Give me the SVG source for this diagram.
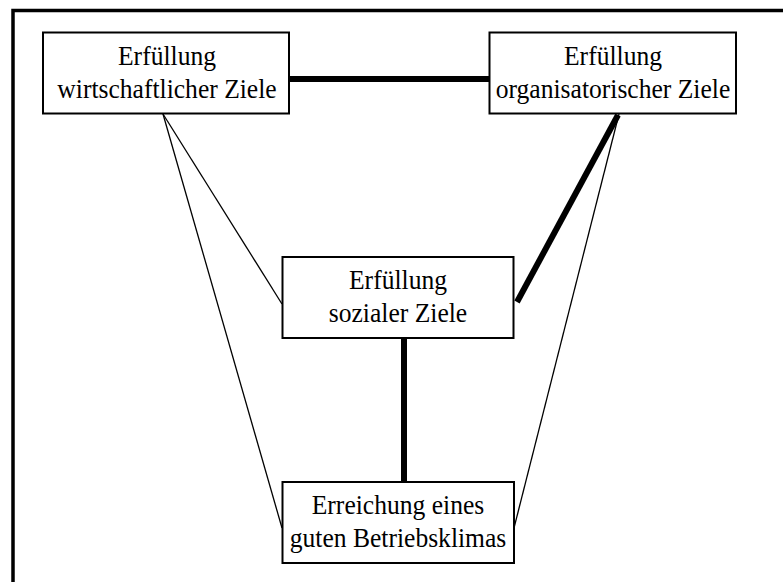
<svg xmlns="http://www.w3.org/2000/svg" width="783" height="582" viewBox="0 0 783 582">
<style>
.box{fill:#fff;stroke:#000;stroke-width:2}
.t{font-family:"Liberation Serif","Times New Roman",serif;font-size:27.5px;fill:#000;text-anchor:middle}
.thick{stroke:#000;stroke-width:6;fill:none}
.thin{stroke:#000;stroke-width:1.3;fill:none}
</style>
<rect x="0" y="0" width="783" height="582" fill="#fff"/>
<rect x="13" y="10.5" width="800" height="600" fill="none" stroke="#000" stroke-width="3.5"/>
<g id="connectors">
<line class="thick" x1="289" y1="79" x2="489" y2="79"/>
<line class="thick" x1="618" y1="115" x2="517" y2="302"/>
<line class="thick" x1="404" y1="338" x2="404" y2="482"/>
<line class="thin" x1="163" y1="114" x2="282" y2="304"/>
<line class="thin" x1="163" y1="114" x2="282" y2="528"/>
<line class="thin" x1="619" y1="114" x2="514" y2="528"/>
</g>
<g id="n1">
<rect class="box" x="43" y="32.5" width="246" height="81"/>
<text class="t" transform="matrix(0.93 0 0 1 167 65)">Erfüllung</text>
<text class="t" transform="matrix(0.93 0 0 1 167 98)">wirtschaftlicher Ziele</text>
</g>
<g id="n2">
<rect class="box" x="489.5" y="32.5" width="246.5" height="81"/>
<text class="t" transform="matrix(0.93 0 0 1 613 65)">Erfüllung</text>
<text class="t" transform="matrix(0.93 0 0 1 613 98)">organisatorischer Ziele</text>
</g>
<g id="n3">
<rect class="box" x="282.5" y="257" width="231" height="81"/>
<text class="t" transform="matrix(0.93 0 0 1 398 289)">Erfüllung</text>
<text class="t" transform="matrix(0.93 0 0 1 398 322)">sozialer Ziele</text>
</g>
<g id="n4">
<rect class="box" x="282.5" y="482" width="231.5" height="81"/>
<text class="t" transform="matrix(0.93 0 0 1 398 514)">Erreichung eines</text>
<text class="t" transform="matrix(0.93 0 0 1 398 547)">guten Betriebsklimas</text>
</g>
</svg>
